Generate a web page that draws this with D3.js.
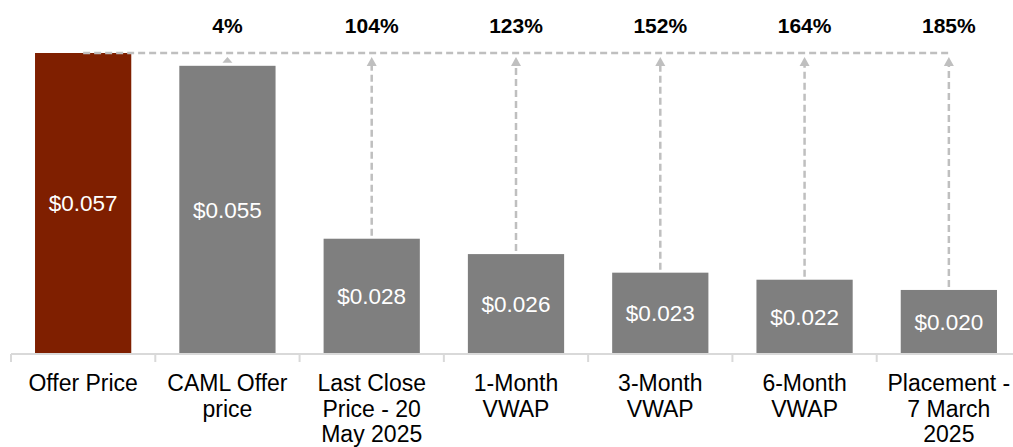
<!DOCTYPE html>
<html>
<head>
<meta charset="utf-8">
<script src="https://cdn.jsdelivr.net/npm/d3@7/dist/d3.min.js"></script>
<style>
  html, body { margin: 0; padding: 0; background: #fff; }
  svg { display: block; font-family: "Liberation Sans", Arial, sans-serif; }
</style>
</head>
<body>
<svg id="chart" width="1013" height="447"></svg>
<script>
// ---- data ----
const categories = [
  ["Offer Price"],
  ["CAML Offer", "price"],
  ["Last Close", "Price - 20", "May 2025"],
  ["1-Month", "VWAP"],
  ["3-Month", "VWAP"],
  ["6-Month", "VWAP"],
  ["Placement -", "7 March", "2025"]
];
const prices = [0.057, 0.055, 0.028, 0.0256, 0.0227, 0.0216, 0.020];
const premiumLabels = [null, "4%", "104%", "123%", "152%", "164%", "185%"];
const barColors = ["#7f1f00", "#7f7f7f", "#7f7f7f", "#7f7f7f", "#7f7f7f", "#7f7f7f", "#7f7f7f"];
const yDomain = [0.01, 0.057];

// ---- layout ----
const svg = d3.select("#chart");
const idx = d3.range(categories.length);
const x = d3.scaleBand().domain(idx).range([11, 1021]).paddingInner(0.333).paddingOuter(0.1665);
const y = d3.scaleLinear().domain(yDomain).range([354, 53]);
const baseY = y(yDomain[0]);
const step = x.step();
const cx = i => x(i) + x.bandwidth() / 2;

// bars
svg.append("g").selectAll("rect").data(prices).join("rect")
  .attr("x", (d, i) => x(i))
  .attr("y", d => y(d))
  .attr("width", x.bandwidth())
  .attr("height", d => baseY - y(d))
  .attr("fill", (d, i) => barColors[i]);

// value labels
svg.append("g").selectAll("text").data(prices).join("text")
  .attr("x", (d, i) => cx(i))
  .attr("y", d => (y(d) + baseY) / 2)
  .attr("dy", "0.35em")
  .attr("text-anchor", "middle")
  .attr("fill", "#fff")
  .attr("font-size", 22.5)
  .text(d => "$" + d3.format(".3f")(d));

// axis
const axisG = svg.append("g").attr("transform", `translate(0,${baseY})`);
axisG.append("line").attr("x1", 11).attr("x2", 1013).attr("y1", 0).attr("y2", 0)
  .attr("stroke", "#d9d9d9").attr("stroke-width", 2);
axisG.selectAll("line.tick").data(d3.range(categories.length + 1)).join("line")
  .attr("class", "tick")
  .attr("x1", i => x.range()[0] + i * step).attr("x2", i => x.range()[0] + i * step)
  .attr("y1", 0).attr("y2", 8)
  .attr("stroke", "#d9d9d9").attr("stroke-width", 2);

// category labels
const catG = svg.append("g");
categories.forEach((lines, i) => {
  const t = catG.append("text")
    .attr("x", cx(i)).attr("y", 391)
    .attr("text-anchor", "middle")
    .attr("fill", "#000")
    .attr("font-size", 23);
  lines.forEach((ln, j) => {
    t.append("tspan").attr("x", cx(i)).attr("y", 391 + j * 25.5).text(ln);
  });
});

// reference dashed line
const topY = y(prices[0]);
const dashCol = "#bfbfbf";
svg.append("line")
  .attr("x1", cx(0)).attr("x2", cx(categories.length - 1))
  .attr("y1", topY).attr("y2", topY)
  .attr("stroke", dashCol).attr("stroke-width", 2.5)
  .attr("stroke-dasharray", "7,4");

// arrows
const arrowG = svg.append("g");
prices.forEach((p, i) => {
  if (i === 0) return;
  const tip = topY + 4;
  const bt = y(p);
  const h = Math.min(9, bt - tip - 3);
  const base = tip + h;
  if (bt - 3 > base) {
    arrowG.append("line")
      .attr("x1", cx(i)).attr("x2", cx(i))
      .attr("y1", bt - 3).attr("y2", base)
      .attr("stroke", dashCol).attr("stroke-width", 2.5)
      .attr("stroke-dasharray", "7,4");
  }
  arrowG.append("path")
    .attr("d", `M${cx(i)},${tip}L${cx(i) + 5},${base}L${cx(i) - 5},${base}Z`)
    .attr("fill", dashCol);
});

// premium labels
svg.append("g").selectAll("text").data(premiumLabels).join("text")
  .attr("x", (d, i) => cx(i))
  .attr("y", 33)
  .attr("text-anchor", "middle")
  .attr("font-weight", "bold")
  .attr("font-size", 21)
  .attr("fill", "#000")
  .text(d => d || "");
</script>
</body>
</html>
